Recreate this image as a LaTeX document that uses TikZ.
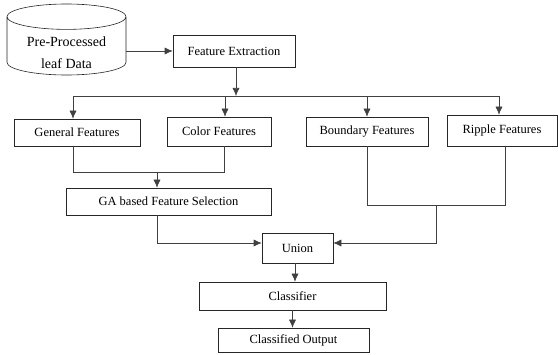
\documentclass[tikz,border=0pt]{standalone}
\usepackage{fontspec}
\setmainfont{Liberation Serif}
\usetikzlibrary{
  calc,
  positioning,
  arrows.meta,
  shapes.geometric}

\tikzset{
  box/.style={
    rectangle,
    draw=black!85,
    line width=0.6pt,
    inner sep=0pt
  },
  line/.style={
    draw=black!75,
    line width=0.6pt
  },
  arr/.style={
    line,
    -{Latex[length=8pt,width=7pt]}
  }
}

\begin{document}
\begin{tikzpicture}[
    x=1pt,
    y=-1pt,
    font=\fontsize{12.5}{14}\selectfont
  ]%
  \useasboundingbox (0,0) rectangle (558,355);

  % Input data
  \node[
    cylinder,
    shape border rotate=90,
    draw=black!85,
    line width=0.6pt,
    aspect=0.32,
    minimum width=119pt,
    minimum height=71pt,
    font=\fontsize{14}{22}\selectfont,
    inner sep=0pt
  ] (data) at (66.5,46)
    {\raisebox{-11pt}[12pt][12pt]{\begin{tabular}{@{}c@{}}Pre-Processed\\leaf Data\end{tabular}}};

  \node[
    box,
    minimum width=122pt,
    minimum height=32pt
  ] (fe) at (234,51) {Feature Extraction};

  % Features
  \node[
    box,
    minimum width=126pt,
    minimum height=27pt
  ] (gen) at (77,132.5) {General Features};

  \node[
    box,
    minimum width=104pt,
    minimum height=29pt
  ] (col) at (219,131.5) {Color Features};

  \node[
    box,
    minimum width=122pt,
    minimum height=29pt
  ] (bnd) at (367,131.5) {Boundary Features};

  \node[
    box,
    minimum width=110pt,
    minimum height=31pt
  ] (rip) at (502,130.5) {Ripple Features};

  % Selection and classification
  \node[
    box,
    minimum width=205pt,
    minimum height=27pt
  ] (ga) at (168.5,201.5) {GA based Feature Selection};

  \node[
    box,
    minimum width=71pt,
    minimum height=30pt
  ] (uni) at (297.5,248) {Union};

  \node[
    box,
    minimum width=187pt,
    minimum height=28pt
  ] (cls) at (292.5,296) {Classifier};

  \node[
    box,
    minimum width=151pt,
    minimum height=24pt
  ] (out) at (293.5,340) {Classified Output};

  % Junction points
  \coordinate (busL) at (73,96);
  \coordinate (busR) at (499,96);
  \coordinate (gajoin) at (157,172);
  \coordinate (bjoin) at (436,205);

  % Connectors
  \draw[arr] (fe.west -| data.east) -- (fe.west);
  \draw[line] (busL) -- (busR);
  \draw[arr] ([xshift=2pt]fe.south) -- ([xshift=2pt]fe.south |- busL);

  \draw[arr] (busL) -- (busL |- gen.north);
  \draw[arr] ([xshift=6pt]col.north |- busL) -- ([xshift=6pt]col.north);
  \draw[arr] (bnd.north |- busL) -- (bnd.north);
  \draw[arr] (busR) -- (busR |- rip.north);

  \draw[line]
    (busL |- gen.south) -- (busL |- gajoin)
    -- ([xshift=5pt]col.south |- gajoin) -- ([xshift=5pt]col.south);
  \draw[arr] (gajoin) -- (gajoin |- ga.north);
  \draw[arr] (gajoin |- ga.south) |- ([yshift=5pt]uni.west);

  \draw[line]
    (bnd.south) -- (bnd.south |- bjoin)
    -- ([xshift=3pt]rip.south |- bjoin) -- ([xshift=3pt]rip.south);
  \draw[arr] (bjoin) |- ([yshift=5pt]uni.east);

  \draw[arr] ([xshift=-2.5pt]uni.south) -- ([xshift=-2.5pt]uni.south |- cls.north);
  \draw[arr] (cls.south) -- (cls.south |- out.north);

\end{tikzpicture}
\end{document}
